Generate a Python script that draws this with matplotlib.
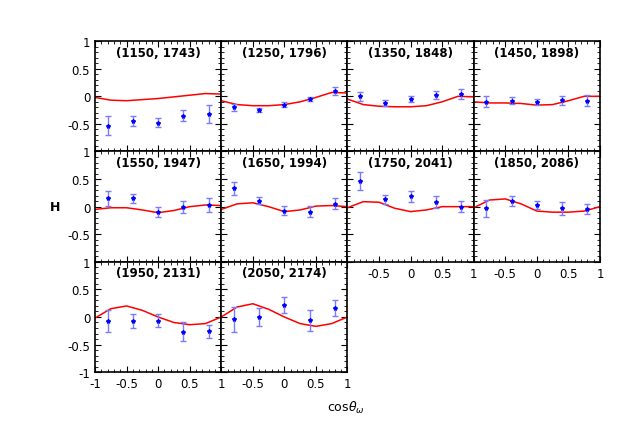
import matplotlib
matplotlib.use("Agg")
import numpy as np
import matplotlib.pyplot as plt
from matplotlib.ticker import MultipleLocator

labels = ["(1150, 1743)", "(1250, 1796)", "(1350, 1848)", "(1450, 1898)",
          "(1550, 1947)", "(1650, 1994)", "(1750, 2041)", "(1850, 2086)",
          "(1950, 2131)", "(2050, 2174)"]

x_data = [-0.8, -0.4, 0.0, 0.4, 0.8]
y_data = [
    [-0.53, -0.44, -0.48, -0.35, -0.32],
    [-0.20, -0.25, -0.15, -0.05, 0.10],
    [0.00, -0.12, -0.05, 0.02, 0.05],
    [-0.10, -0.08, -0.10, -0.07, -0.08],
    [0.15, 0.15, -0.09, 0.00, 0.03],
    [0.33, 0.11, -0.07, -0.09, 0.05],
    [0.47, 0.13, 0.19, 0.09, 0.00],
    [-0.03, 0.10, 0.03, -0.03, -0.05],
    [-0.08, -0.07, -0.07, -0.27, -0.26],
    [-0.04, 0.00, 0.22, -0.06, 0.16],
]
y_err = [
    [0.18, 0.09, 0.08, 0.10, 0.16],
    [0.06, 0.03, 0.04, 0.04, 0.07],
    [0.08, 0.05, 0.05, 0.07, 0.09],
    [0.10, 0.06, 0.06, 0.08, 0.10],
    [0.13, 0.08, 0.09, 0.11, 0.12],
    [0.12, 0.07, 0.08, 0.10, 0.10],
    [0.16, 0.09, 0.10, 0.11, 0.10],
    [0.15, 0.09, 0.08, 0.12, 0.09],
    [0.20, 0.13, 0.12, 0.17, 0.12],
    [0.23, 0.17, 0.15, 0.19, 0.15],
]

x_curve = [-1.0, -0.75, -0.5, -0.25, 0.0, 0.25, 0.5, 0.75, 1.0]
y_curve = [
    [-0.02, -0.07, -0.08, -0.06, -0.04, -0.01, 0.02, 0.05, 0.04],
    [-0.08, -0.15, -0.17, -0.17, -0.15, -0.10, -0.02, 0.07, 0.06],
    [-0.05, -0.15, -0.18, -0.19, -0.19, -0.17, -0.10, 0.00, -0.01],
    [-0.10, -0.12, -0.12, -0.13, -0.16, -0.15, -0.08, 0.00, 0.00],
    [-0.05, -0.02, -0.02, -0.06, -0.11, -0.07, 0.00, 0.03, 0.02],
    [-0.05, 0.05, 0.07, 0.00, -0.09, -0.06, 0.01, 0.02, 0.00],
    [-0.02, 0.09, 0.08, -0.03, -0.09, -0.06, 0.00, 0.00, 0.00],
    [-0.02, 0.12, 0.14, 0.05, -0.08, -0.10, -0.10, -0.08, 0.00],
    [-0.02, 0.15, 0.20, 0.12, 0.00, -0.10, -0.14, -0.12, 0.00],
    [0.00, 0.18, 0.24, 0.14, 0.00, -0.12, -0.17, -0.12, 0.00],
]

fig = plt.figure(figsize=(6.23, 4.39), dpi=100)
gs = fig.add_gridspec(3, 4, left=0.1525, right=0.963, top=0.904, bottom=0.150,
                      wspace=0, hspace=0)

for i in range(10):
    r, c = divmod(i, 4)
    ax = fig.add_subplot(gs[r, c])
    ax.plot(x_curve, y_curve[i], color="red", lw=1.1)
    ax.errorbar(x_data, y_data[i], yerr=y_err[i], fmt="*", color="blue", ms=3,
                ecolor="#7b7bff", elinewidth=1, capsize=2.5, capthick=1)
    ax.text(0.5, 0.9, labels[i], transform=ax.transAxes, ha="center", va="center",
            fontsize=8.5, fontweight="semibold")
    ax.set_xlim(-1, 1)
    ax.set_ylim(-1, 1)
    ax.xaxis.set_major_locator(MultipleLocator(0.5))
    ax.yaxis.set_major_locator(MultipleLocator(0.5))
    ax.xaxis.set_minor_locator(MultipleLocator(0.1))
    ax.yaxis.set_minor_locator(MultipleLocator(0.1))
    ax.tick_params(which="both", direction="in", top=True, right=True, labelsize=8.5)
    ax.tick_params(which="major", length=4)
    ax.tick_params(which="minor", length=2)
    for s in ax.spines.values():
        s.set_linewidth(1.2)
    if c == 0:
        ax.set_yticks([-1, -0.5, 0, 0.5, 1])
        ylab = ["-1" if r == 2 else "", "-0.5", "0", "0.5", "1"]
        ax.set_yticklabels(ylab)
    else:
        ax.set_yticklabels([])
    bottom = (r == 2) or (r == 1 and c >= 2)
    if bottom:
        ax.set_xticks([-1, -0.5, 0, 0.5, 1])
        ax.set_xticklabels(["-1" if c == 0 else "", "-0.5", "0", "0.5", "1"])
    else:
        ax.set_xticklabels([])

fig.text(0.088, 0.528, "H", fontsize=9, fontweight="semibold", ha="center", va="center")
fig.text(0.555, 0.07, r"cos$\theta_\omega$", fontsize=9,
         ha="center", va="center")

fig.savefig("out.png", dpi=100)
